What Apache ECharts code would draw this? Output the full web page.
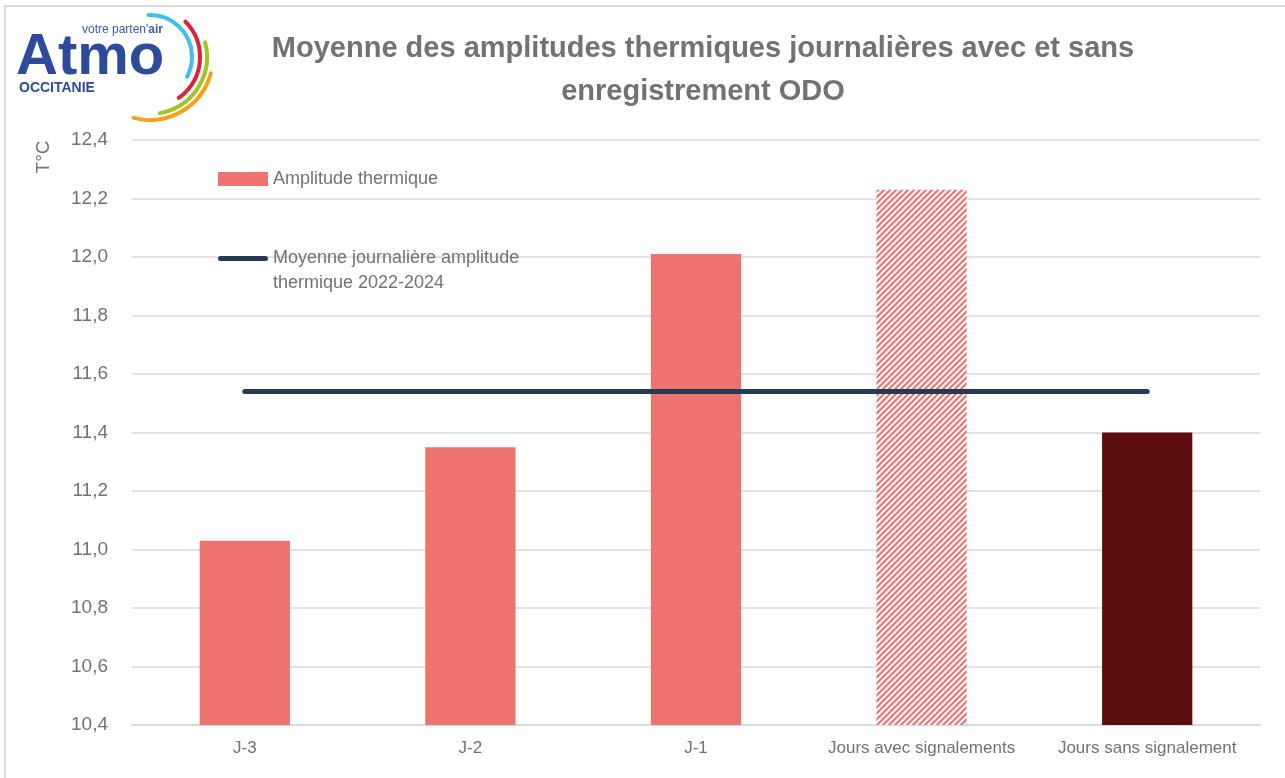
<!DOCTYPE html>
<html>
<head>
<meta charset="utf-8">
<script src="https://cdn.jsdelivr.net/npm/echarts@6/dist/echarts.min.js"></script>
<style>
  html, body { margin: 0; padding: 0; background: #fff; }
  #chart { width: 1285px; height: 778px; }
</style>
</head>
<body>
<div id="chart"></div>
<script>
var categories = ['J-3', 'J-2', 'J-1', 'Jours avec signalements', 'Jours sans signalement'];
var amplitude = [11.03, 11.35, 12.01, 12.23, 11.40];
var moyenne = [11.54, 11.54, 11.54, 11.54, 11.54];
var nomBarres = 'Amplitude thermique';
var nomLigne = 'Moyenne journalière amplitude\nthermique 2022-2024';

var gris = '#767171';
var saumon = '#EE7370';
var bordeaux = '#5C0E0E';
var marine = '#243B53';
var police = '"Liberation Sans", Arial, sans-serif';

// motif hachuré pour "Jours avec signalements"
var hachure = document.createElement('canvas');
hachure.width = 6;
hachure.height = 6;
var ctx = hachure.getContext('2d');
ctx.fillStyle = '#fff';
ctx.fillRect(0, 0, 6, 6);
ctx.strokeStyle = saumon;
ctx.lineWidth = 2.2;
ctx.beginPath();
ctx.moveTo(-1, 7); ctx.lineTo(7, -1);
ctx.moveTo(-4, 4); ctx.lineTo(4, -4);
ctx.moveTo(2, 10); ctx.lineTo(10, 2);
ctx.stroke();

var barData = [];
for (var i = 0; i < amplitude.length; i++) {
    var item = { value: amplitude[i] };
    if (i === 3) item.itemStyle = { color: { image: hachure, repeat: 'repeat' } };
    if (i === 4) item.itemStyle = { color: bordeaux };
    barData.push(item);
}

var myChart = echarts.init(document.getElementById('chart'));
var option = {
    backgroundColor: '#fff',
    animation: false,
    title: {
        text: 'Moyenne des amplitudes thermiques journalières avec et sans\nenregistrement ODO',
        left: 698,
        textAlign: 'center',
        top: 22,
        textStyle: {
            fontFamily: police,
            fontSize: 29,
            fontWeight: 'bold',
            color: gris,
            lineHeight: 43
        }
    },
    legend: [{
        data: [nomBarres],
        left: 213,
        top: 163,
        itemWidth: 50,
        itemHeight: 14,
        icon: 'rect',
        textStyle: { fontFamily: police, fontSize: 18, color: gris, lineHeight: 22 }
    }, {
        data: [nomLigne],
        left: 213,
        top: 241,
        itemWidth: 50,
        itemHeight: 30,
        icon: 'path://M2.5,0 L47.5,0 A2.5,2.5 0 0 1 47.5,5 L2.5,5 A2.5,2.5 0 0 1 2.5,0 Z M0,29.9 L0.1,30 L0,30 Z',
        itemStyle: { color: marine, borderWidth: 0 },
        lineStyle: { width: 0 },
        textStyle: { fontFamily: police, fontSize: 18, color: gris, lineHeight: 25 }
    }],
    grid: { left: 132, right: 25, top: 140, bottom: 53, containLabel: false },
    xAxis: {
        type: 'category',
        data: categories,
        axisLine: { lineStyle: { color: '#d9d9d9', width: 2 } },
        axisTick: { show: false },
        axisLabel: { fontFamily: police, fontSize: 17, color: gris, margin: 15, interval: 0 }
    },
    yAxis: {
        type: 'value',
        min: 10.4,
        max: 12.4,
        interval: 0.2,
        axisLine: { show: false },
        axisTick: { show: false },
        splitLine: { lineStyle: { color: '#d9d9d9', width: 1.5 } },
        axisLabel: {
            fontFamily: police, fontSize: 19, color: gris, margin: 24,
            formatter: function (v) { return v.toFixed(1).replace('.', ','); }
        }
    },
    series: [{
        name: nomBarres,
        type: 'bar',
        data: barData,
        barWidth: '40%',
        itemStyle: { color: saumon },
        z: 2
    }, {
        name: nomLigne,
        type: 'line',
        data: moyenne,
        symbol: 'none',
        lineStyle: { color: marine, width: 5, cap: 'round' },
        itemStyle: { color: marine },
        z: 3
    }],
    graphic: [
        {
            type: 'rect',
            shape: { x: 5, y: 6, width: 1300, height: 800 },
            style: { fill: null, stroke: '#d9d9d9', lineWidth: 2 },
            silent: true
        },
        {
            type: 'text',
            x: 44, y: 157,
            rotation: Math.PI / 2,
            style: {
                text: 'T°C', fontFamily: police, fontSize: 19, fill: gris,
                align: 'center', verticalAlign: 'middle'
            }
        },
        // logo Atmo Occitanie
        {
            type: 'group',
            children: [
                { type: 'text', x: 16, y: 29, style: { text: 'Atmo', fontFamily: police, fontWeight: 'bold', fontSize: 58, fill: '#2E4B9B' } },
                {
                    type: 'text', x: 82, y: 24,
                    style: {
                        text: "{a|votre parten'}{b|air}",
                        rich: {
                            a: { fontFamily: police, fontSize: 12, fill: '#3D5BA9' },
                            b: { fontFamily: police, fontSize: 12, fontWeight: 'bold', fill: '#3D5BA9' }
                        }
                    }
                },
                { type: 'text', x: 19, y: 81, style: { text: 'OCCITANIE', fontFamily: police, fontWeight: 'bold', fontSize: 14, fill: '#2E4B9B' } },
                { type: 'arc', shape: { cx: 150, cy: 57, r: 42, startAngle: -92 * Math.PI / 180, endAngle: 28 * Math.PI / 180 }, style: { stroke: '#3EC1E8', lineWidth: 4, fill: null, lineCap: 'round' } },
                { type: 'arc', shape: { cx: 150, cy: 57, r: 50, startAngle: -45 * Math.PI / 180, endAngle: 55 * Math.PI / 180 }, style: { stroke: '#E2203A', lineWidth: 4, fill: null, lineCap: 'round' } },
                { type: 'arc', shape: { cx: 150, cy: 57, r: 57, startAngle: -15 * Math.PI / 180, endAngle: 80 * Math.PI / 180 }, style: { stroke: '#A2C526', lineWidth: 4, fill: null, lineCap: 'round' } },
                { type: 'arc', shape: { cx: 150, cy: 57, r: 63, startAngle: 15 * Math.PI / 180, endAngle: 105 * Math.PI / 180 }, style: { stroke: '#F5A21B', lineWidth: 4, fill: null, lineCap: 'round' } }
            ]
        }
    ]
};
myChart.setOption(option);
</script>
</body>
</html>
